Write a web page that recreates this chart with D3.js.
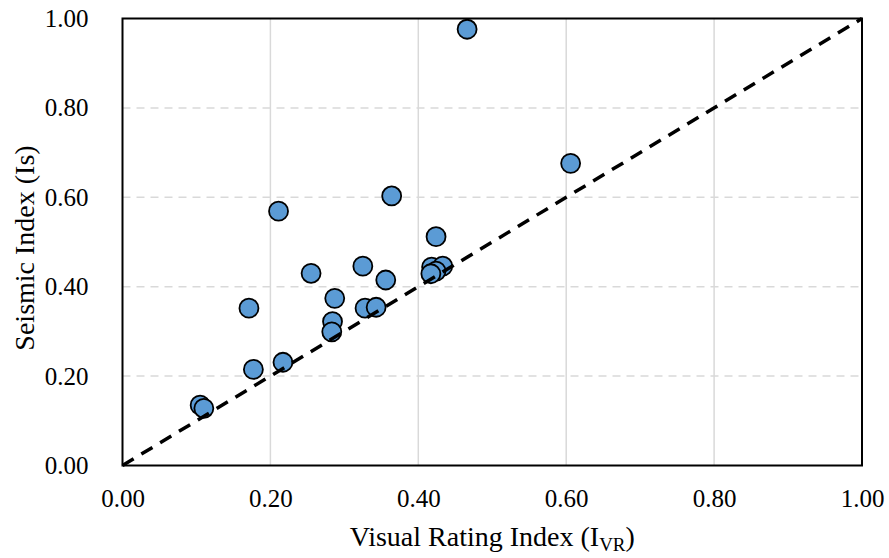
<!DOCTYPE html>
<html>
<head>
<meta charset="utf-8">
<script src="https://d3js.org/d3.v7.min.js"></script>
<style>
  body { margin: 0; background: white; }
  text { font-family: "Liberation Serif", "Times New Roman", serif; fill: #000; }
</style>
</head>
<body>
<svg></svg>
<script>
// visual rating index (x) and seismic index (y) per building
var ivr = [0.466, 0.606, 0.364, 0.211, 0.424, 0.255, 0.325, 0.418, 0.433, 0.424, 0.417,
           0.356, 0.287, 0.171, 0.328, 0.343, 0.284, 0.283, 0.177, 0.217, 0.105, 0.110]
var is_vals = [0.976, 0.676, 0.603, 0.569, 0.512, 0.430, 0.446, 0.444, 0.446, 0.435, 0.429,
               0.415, 0.374, 0.352, 0.352, 0.354, 0.322, 0.299, 0.215, 0.231, 0.135, 0.128]
var ticks = [0, 0.2, 0.4, 0.6, 0.8, 1.0]

var margins = {"left": 122.5, "right": 27, "top": 18.5, "bottom": 92.5}
var width = 889 - margins.left - margins.right
var height = 558 - margins.top - margins.bottom

var svg = d3.select("svg")
  .attr("width", 889)
  .attr("height", 558)

var g = svg.append("g")
  .attr("transform", "translate(" + margins.left + "," + margins.top + ")")

var xScale = d3.scaleLinear().domain([0, 1]).range([0, width])
var yScale = d3.scaleLinear().domain([0, 1]).range([height, 0])

// gridlines: vertical solid, horizontal dashed
g.selectAll(".vgrid")
  .data(ticks.slice(1, 5))
  .enter()
  .append("line")
  .attr("class", "vgrid")
  .attr("x1", function(d){ return xScale(d) })
  .attr("x2", function(d){ return xScale(d) })
  .attr("y1", 0)
  .attr("y2", height)
  .attr("stroke", "#d9d9d9")
  .attr("stroke-width", 1.5)

g.selectAll(".hgrid")
  .data(ticks.slice(1, 5))
  .enter()
  .append("line")
  .attr("class", "hgrid")
  .attr("x1", 0)
  .attr("x2", width)
  .attr("y1", function(d){ return yScale(d) })
  .attr("y2", function(d){ return yScale(d) })
  .attr("stroke", "#d9d9d9")
  .attr("stroke-width", 1.5)
  .attr("stroke-dasharray", "8,6")

var xAxis = g.append("g")
  .attr("transform", "translate(0," + height + ")")
  .call(d3.axisBottom(xScale).tickValues(ticks).tickFormat(d3.format(".2f")).tickSize(0).tickPadding(24))
  .attr("font-family", "Liberation Serif")
  .attr("font-size", 25)
xAxis.select(".domain").remove()

var yAxis = g.append("g")
  .call(d3.axisLeft(yScale).tickValues(ticks).tickFormat(d3.format(".2f")).tickSize(0).tickPadding(34))
  .attr("font-family", "Liberation Serif")
  .attr("font-size", 25)
yAxis.select(".domain").remove()

// points
g.selectAll(".pt")
  .data(ivr)
  .enter()
  .append("circle")
  .attr("class", "pt")
  .attr("cx", function(d){ return xScale(d) })
  .attr("cy", function(d, i){ return yScale(is_vals[i]) })
  .attr("r", 9.5)
  .attr("fill", "#5b9bd5")
  .attr("stroke", "#000")
  .attr("stroke-width", 1.8)

// 1:1 line
g.append("line")
  .attr("x1", xScale(0))
  .attr("y1", yScale(0))
  .attr("x2", xScale(1))
  .attr("y2", yScale(1))
  .attr("stroke", "#000")
  .attr("stroke-width", 3.5)
  .attr("stroke-dasharray", "13,9")

// frame
g.append("rect")
  .attr("x", 0)
  .attr("y", 0)
  .attr("width", width)
  .attr("height", height)
  .attr("fill", "none")
  .attr("stroke", "#000")
  .attr("stroke-width", 2)

// axis titles
var xt = svg.append("text")
  .attr("x", margins.left + width / 2)
  .attr("y", 546)
  .attr("text-anchor", "middle")
  .attr("font-size", "28px")
xt.append("tspan").text("Visual Rating Index (I")
xt.append("tspan").text("VR").attr("font-size", "19px").attr("dy", 5)
xt.append("tspan").text(")").attr("dy", -5)

svg.append("text")
  .attr("transform", "translate(34," + (margins.top + height / 2 + 6) + ") rotate(-90)")
  .attr("text-anchor", "middle")
  .attr("font-size", "28px")
  .text("Seismic Index (Is)")
</script>
</body>
</html>
